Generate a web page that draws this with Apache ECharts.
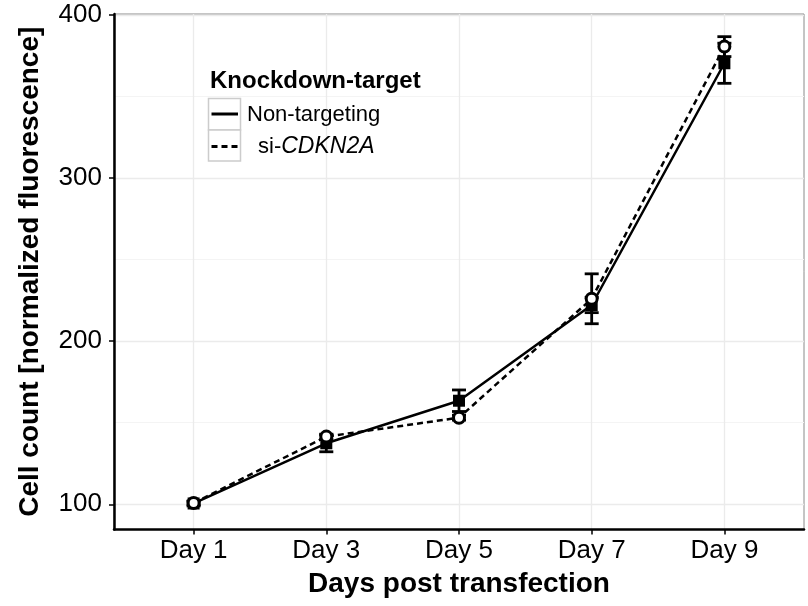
<!DOCTYPE html>
<html>
<head>
<meta charset="utf-8">
<script src="https://cdn.jsdelivr.net/npm/echarts@6/dist/echarts.min.js"></script>
<style>
html,body{margin:0;padding:0;background:#fff;}
#chart{width:808px;height:606px;}
</style>
</head>
<body>
<div id="chart"></div>
<script>
// ---- data ----
var categories = ['Day 1', 'Day 3', 'Day 5', 'Day 7', 'Day 9'];
var nonTargeting = [100.5, 137.4, 163.5, 222.2, 370.4];
var nonTargetingErr = [1.5, 5.2, 6.6, 4.7, 12.3];
var siCDKN2A = [100.8, 141.5, 153.1, 226.0, 380.6];
var siCDKN2AErr = [1.0, 1.5, 1.5, 15.3, 6.1];
var yTicks = [100, 200, 300, 400];
var yMinorGrid = [150, 250, 350];

var FONT = '"Liberation Sans", Arial, sans-serif';
var xPos = categories.map(function (c, i) { return i + 1; });

function pts(vals) { return vals.map(function (v, i) { return [xPos[i], v]; }); }
function errPts(vals, errs) { return vals.map(function (v, i) { return [xPos[i], v, errs[i]]; }); }

function errRender(params, api) {
  var x = api.value(0), y = api.value(1), e = api.value(2);
  var top = api.coord([x, y + e]);
  var bot = api.coord([x, y - e]);
  var hw = 7;
  var st = { stroke: '#000', lineWidth: 2.8, opacity: 1 };
  return {
    type: 'group',
    children: [
      { type: 'line', shape: { x1: top[0], y1: top[1], x2: bot[0], y2: bot[1] }, style: st },
      { type: 'line', shape: { x1: top[0] - hw, y1: top[1], x2: top[0] + hw, y2: top[1] }, style: st },
      { type: 'line', shape: { x1: bot[0] - hw, y1: bot[1], x2: bot[0] + hw, y2: bot[1] }, style: st }
    ]
  };
}

var gridLines = [];
yTicks.forEach(function (v) { gridLines.push({ yAxis: v, lineStyle: { color: '#ebebeb', width: 1.3, type: 'solid' } }); });
yMinorGrid.forEach(function (v) { gridLines.push({ yAxis: v, lineStyle: { color: '#f4f4f4', width: 1, type: 'solid' } }); });
xPos.forEach(function (v) { gridLines.push({ xAxis: v, lineStyle: { color: '#ebebeb', width: 1.3, type: 'solid' } }); });

var chart = echarts.init(document.getElementById('chart'), null, { renderer: 'canvas' });
chart.setOption({
  animation: false,
  backgroundColor: '#fff',
  grid: { left: 114, right: 4, top: 14, bottom: 76.5, show: true, borderColor: '#8a8a8a', borderWidth: 1, backgroundColor: 'transparent' },
  xAxis: {
    type: 'value', min: 0.4, max: 5.6,
    name: 'Days post transfection', nameLocation: 'middle', nameGap: 41,
    nameTextStyle: { fontFamily: FONT, fontSize: 28, fontWeight: 'bold', color: '#000' },
    axisLine: { show: true, onZero: false, lineStyle: { color: '#000', width: 2.5 } },
    axisTick: { show: true, length: 5, customValues: xPos, lineStyle: { color: '#000', width: 1.5 } },
    axisLabel: { customValues: xPos, margin: 8, fontFamily: FONT, fontSize: 26, color: '#000',
      formatter: function (v) { return categories[Math.round(v) - 1] || ''; } },
    splitLine: { show: false }
  },
  yAxis: {
    type: 'value', min: 84.55, max: 400.6,
    name: 'Cell count [normalized fluorescence]', nameLocation: 'middle', nameGap: 70,
    nameTextStyle: { fontFamily: FONT, fontSize: 28, fontWeight: 'bold', color: '#000' },
    axisLine: { show: true, onZero: false, lineStyle: { color: '#000', width: 2.5 } },
    axisTick: { show: true, length: 5, customValues: yTicks, lineStyle: { color: '#000', width: 1.5 } },
    axisLabel: { customValues: yTicks, margin: 12, fontFamily: FONT, fontSize: 26, color: '#000' },
    splitLine: { show: false }
  },
  series: [
    { type: 'line', data: [], z: 0, silent: true,
      markLine: { z: 0, silent: true, symbol: 'none', label: { show: false }, data: gridLines, animation: false } },
    { name: 'Non-targeting', type: 'line', data: pts(nonTargeting), symbol: 'none', z: 2,
      lineStyle: { color: '#000', width: 2.5, type: 'solid' } },
    { name: 'si-CDKN2A', type: 'line', data: pts(siCDKN2A), symbol: 'none', z: 2,
      lineStyle: { color: '#000', width: 2.5, type: [6, 4] } },
    { type: 'custom', data: errPts(nonTargeting, nonTargetingErr), renderItem: errRender, z: 3, silent: true },
    { type: 'custom', data: errPts(siCDKN2A, siCDKN2AErr), renderItem: errRender, z: 3, silent: true },
    { type: 'scatter', data: pts(nonTargeting), symbol: 'rect', symbolSize: 12, z: 4,
      itemStyle: { color: '#000', opacity: 1 } },
    { type: 'scatter', data: pts(siCDKN2A), symbol: 'circle', symbolSize: 11, z: 5,
      itemStyle: { color: '#fff', borderColor: '#000', borderWidth: 3, opacity: 1 } }
  ],
  graphic: [
    { type: 'text', x: 210, y: 81, z: 10,
      style: { text: 'Knockdown-target', font: 'bold 24px ' + FONT, fill: '#000', verticalAlign: 'middle' } },
    { type: 'rect', shape: { x: 208.5, y: 98.5, width: 32, height: 31.5 }, z: 10,
      style: { fill: '#fff', stroke: '#cccccc', lineWidth: 1.5 } },
    { type: 'rect', shape: { x: 208.5, y: 130, width: 32, height: 31 }, z: 10,
      style: { fill: '#fff', stroke: '#cccccc', lineWidth: 1.5 } },
    { type: 'line', shape: { x1: 211.5, y1: 114, x2: 238, y2: 114 }, z: 11,
      style: { stroke: '#000', lineWidth: 3 } },
    { type: 'line', shape: { x1: 211.5, y1: 146.5, x2: 238, y2: 146.5 }, z: 11,
      style: { stroke: '#000', lineWidth: 3, lineDash: [6, 4] } },
    { type: 'text', x: 247, y: 115, z: 11,
      style: { text: 'Non-targeting', font: '22px ' + FONT, fill: '#000', verticalAlign: 'middle' } },
    { type: 'text', x: 258, y: 147, z: 11,
      style: { text: '{n|si-}{i|CDKN2A}', verticalAlign: 'middle', fill: '#000',
        rich: { n: { fontFamily: FONT, fontSize: 22, fill: '#000' },
                i: { fontFamily: FONT, fontSize: 23, fontStyle: 'italic', fill: '#000' } } } }
  ]
});
</script>
</body>
</html>
